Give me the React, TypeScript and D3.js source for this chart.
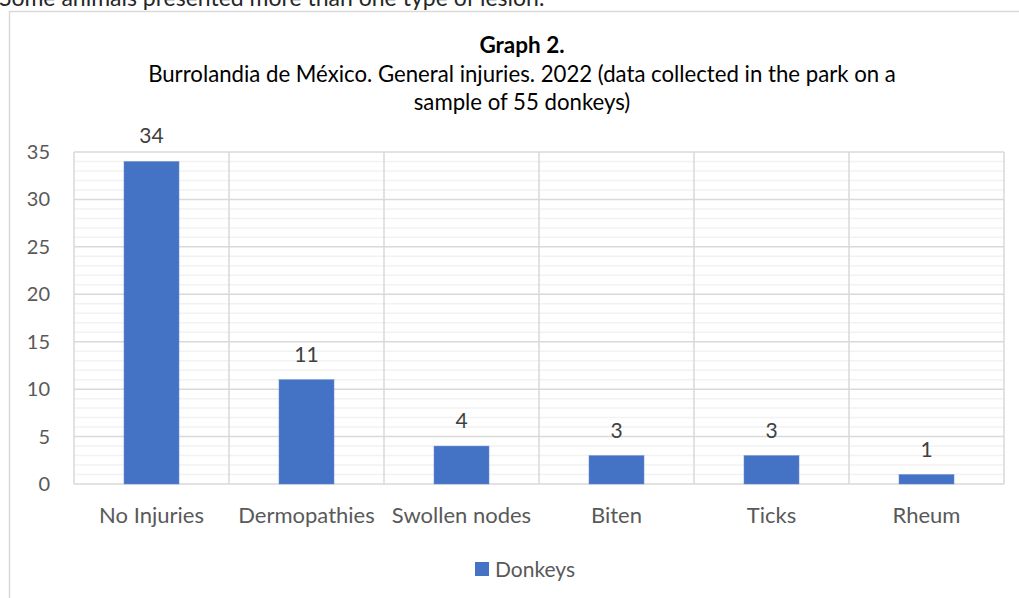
import React from "react";
import * as d3 from "d3";

const categories = ["No Injuries", "Dermopathies", "Swollen nodes", "Biten", "Ticks", "Rheum"];
const donkeys = [34, 11, 4, 3, 3, 1];
const yTicks = [0, 5, 10, 15, 20, 25, 30, 35];
const minorTicks = d3.range(0, 36, 1);
const seriesName = "Donkeys";
const titleBold = "Graph 2.";
const titleLines = [
  "Burrolandia de México. General injuries. 2022 (data collected in the park on a",
  "sample of 55 donkeys)",
];
const topText = "Some animals presented more than one type of lesion.";

const W = 1019;
const H = 598;
const FONT = "Lato, 'Open Sans', sans-serif";

export default function App() {
  const left = 74, right = 1004, top = 152, bottom = 484;
  const x = d3.scaleBand<string>().domain(categories).range([left, right]).padding(0);
  const y = d3.scaleLinear().domain([0, 35]).range([bottom, top]);
  const barW = x.bandwidth() * 0.355;
  const blue = "#4472C4";
  const textColor = "#595959";

  return (
    <svg width={W} height={H} style={{ position: "absolute", left: 0, top: 0, background: "#fff" }} fontFamily={FONT}>
      <rect x={0} y={0} width={W} height={H} fill="#fff" />
      <text x={-1} y={6} fontSize={23} fill="#262626" fontFamily={FONT}>{topText}</text>
      <rect x={9.5} y={11.5} width={W + 20} height={H + 20} fill="#fff" stroke="#d9d9d9" strokeWidth={1.5} />

      <text x={522} y={53} textAnchor="middle" fontSize={22.5} fontWeight="bold" fill="#000">{titleBold}</text>
      {titleLines.map((t, i) => (
        <text key={i} x={522} y={82 + i * 28} textAnchor="middle" fontSize={22.2} fill="#000">{t}</text>
      ))}

      {/* minor gridlines */}
      {minorTicks.filter((v) => v % 5 !== 0).map((v) => (
        <line key={"m" + v} x1={left} x2={right} y1={y(v)} y2={y(v)} stroke="#f2f2f2" strokeWidth={1.5} />
      ))}
      {/* major gridlines */}
      {yTicks.map((v) => (
        <line key={"M" + v} x1={left} x2={right} y1={y(v)} y2={y(v)} stroke="#d9d9d9" strokeWidth={1.5} />
      ))}
      {/* vertical category gridlines */}
      {[...categories.map((c) => x(c) as number), right].map((xv, i) => (
        <line key={"v" + i} x1={xv} x2={xv} y1={top} y2={bottom} stroke="#d9d9d9" strokeWidth={1.5} />
      ))}

      {/* bars */}
      {categories.map((c, i) => {
        const cx = (x(c) as number) + x.bandwidth() / 2;
        return (
          <g key={c}>
            <rect x={cx - barW / 2} y={y(donkeys[i])} width={barW} height={bottom - y(donkeys[i])} fill={blue} stroke="#6d8fd0" strokeWidth={0.5} />
            <text x={cx} y={y(donkeys[i]) - 18} textAnchor="middle" fontSize={21} fill="#404040">{donkeys[i]}</text>
            <text x={cx} y={523} textAnchor="middle" fontSize={22} fill={textColor}>{c}</text>
          </g>
        );
      })}

      {/* y tick labels */}
      {yTicks.map((v) => (
        <text key={"t" + v} x={50} y={y(v)} dy="0.35em" textAnchor="end" fontSize={20} fill={textColor}>{v}</text>
      ))}

      {/* legend */}
      <rect x={475} y={562} width={14} height={14} fill={blue} />
      <text x={495} y={577} fontSize={21} fill={textColor}>{seriesName}</text>
    </svg>
  );
}
